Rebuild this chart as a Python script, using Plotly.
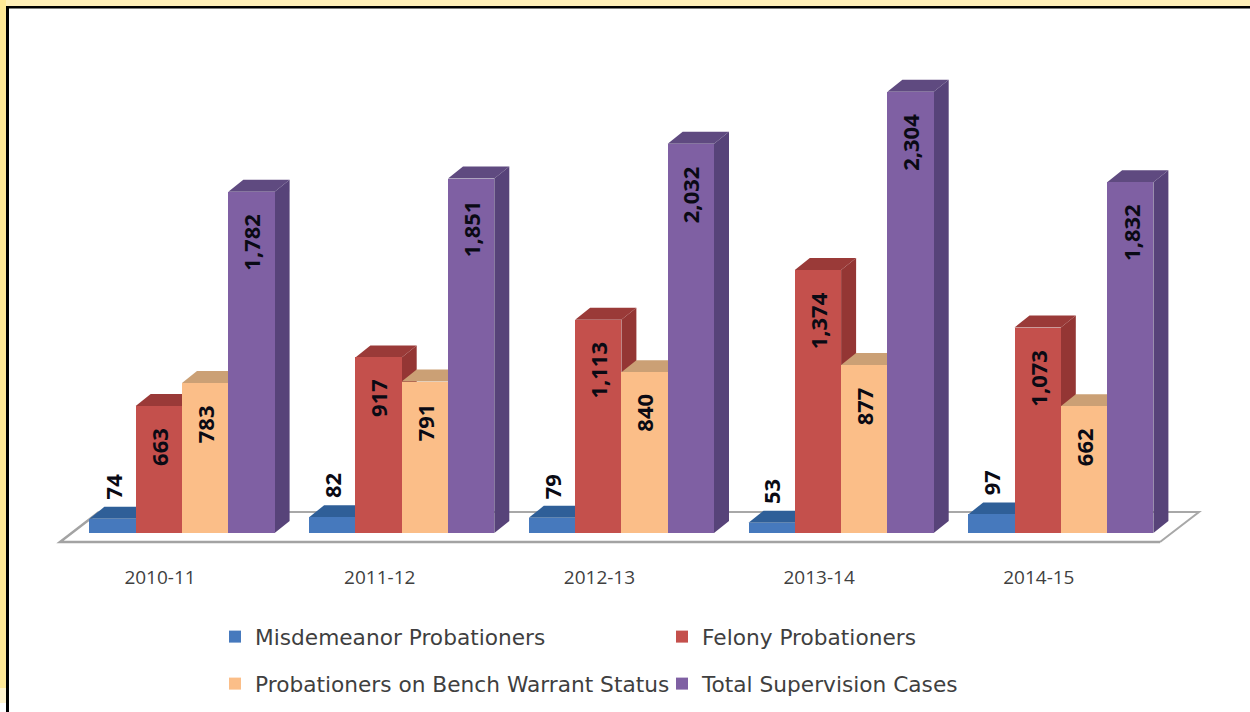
import plotly.graph_objects as go

categories = ["2010-11", "2011-12", "2012-13", "2013-14", "2014-15"]
misdemeanor = [74, 82, 79, 53, 97]
felony = [663, 917, 1113, 1374, 1073]
bench_warrant = [783, 791, 840, 877, 662]
total_cases = [1782, 1851, 2032, 2304, 1832]

series = [
    ("Misdemeanor Probationers", misdemeanor, "#4679BD", "#2F5F98", "#2F5F98", "legend"),
    ("Felony Probationers", felony, "#C4504C", "#9A3A38", "#943634", "legend"),
    ("Probationers on Bench Warrant Status", bench_warrant, "#FBBE88", "#CBA075", "#C29A70", "legend2"),
    ("Total Supervision Cases", total_cases, "#7F60A3", "#5F4A80", "#574379", "legend2"),
]

W, H = 1250, 712
GROUP_PX = 219.7      # pixels per category
ZERO_X = 182.0        # pixel of first group's centre
ZERO_Y = 533.0        # pixel of value 0
PX_PER_UNIT = 0.1915
BAR_PX = 46.3
DX_PX, DY_PX = 15.0, 12.0

bar_w = BAR_PX / GROUP_PX
dx = DX_PX / GROUP_PX
dy = DY_PX / PX_PER_UNIT
x_range = [-ZERO_X / GROUP_PX, (W - ZERO_X) / GROUP_PX]
y_range = [-(H - ZERO_Y) / PX_PER_UNIT, ZERO_Y / PX_PER_UNIT]

fig = go.Figure()

# Depth faces: lowest subplot, left to right
for s, (name, vals, front, top, side, lg) in enumerate(series):
    off = (s - 1.5) * bar_w
    for i, v in enumerate(vals):
        l, r = i + off - bar_w / 2, i + off + bar_w / 2
        fig.add_trace(go.Scatter(
            x=[l, l + dx, r + dx, r, l], y=[v, v + dy, v + dy, v, v],
            mode="lines", fill="toself", fillcolor=top, line=dict(width=0, color=top),
            showlegend=False, hoverinfo="skip", xaxis="x", yaxis="y"))
        fig.add_trace(go.Scatter(
            x=[r, r + dx, r + dx, r, r], y=[0, dy, v + dy, v, 0],
            mode="lines", fill="toself", fillcolor=side, line=dict(width=0, color=side),
            showlegend=False, hoverinfo="skip", xaxis="x", yaxis="y"))

# Front faces: overlaid subplot
for s, (name, vals, front, top, side, lg) in enumerate(series):
    off = (s - 1.5) * bar_w
    fig.add_trace(go.Bar(
        x=[i + off for i in range(len(vals))], y=vals, width=bar_w, name=name,
        marker=dict(color=front, line=dict(width=0)), legend=lg,
        xaxis="x2", yaxis="y2"))

annotations = []
for s, (name, vals, *_rest) in enumerate(series):
    off = (s - 1.5) * bar_w
    for i, v in enumerate(vals):
        outside = s == 0
        annotations.append(dict(
            x=i + off, y=v, xref="x2", yref="y2",
            text=f"{v:,}", textangle=-90, showarrow=False,
            yanchor="bottom" if outside else "top", xanchor="center",
            yshift=17 if outside else -20,
            font=dict(family="Open Sans", size=22, color="#0a0a14", weight="bold")))

px = lambda v: v / W
py = lambda v: 1 - v / H
shapes = [
    dict(type="rect", xref="paper", yref="paper", x0=0, x1=1, y0=py(0), y1=py(6),
         fillcolor="#FFEFB8", line_width=0, layer="below"),
    dict(type="rect", xref="paper", yref="paper", x0=px(0), x1=px(6), y0=py(0), y1=py(688),
         fillcolor="#FFE996", line_width=0, layer="below"),
    dict(type="rect", xref="paper", yref="paper", x0=px(0), x1=px(6), y0=py(688), y1=py(703),
         fillcolor="#FFF4CF", line_width=0, layer="below"),
    dict(type="rect", xref="paper", yref="paper", x0=px(6), x1=1, y0=py(6), y1=py(8.5),
         fillcolor="#000000", line_width=0, layer="below"),
    dict(type="rect", xref="paper", yref="paper", x0=px(6), x1=px(9), y0=py(6), y1=0,
         fillcolor="#000000", line_width=0, layer="below"),
    dict(type="path", xref="paper", yref="paper",
         path=f"M{px(99)},{py(512)} L{px(1199)},{py(512)} L{px(1160)},{py(542)}",
         line=dict(color="#A8A8A8", width=2), layer="below"),
    dict(type="path", xref="paper", yref="paper",
         path=f"M{px(99)},{py(512)} L{px(60)},{py(542)} L{px(1160)},{py(542)}",
         line=dict(color="#A3A3A3", width=2.5), layer="below"),
]

legend_common = dict(orientation="h", xanchor="left", yanchor="middle",
                     entrywidth=402, entrywidthmode="pixels", bgcolor="rgba(0,0,0,0)",
                     font=dict(family="DejaVu Sans", size=21.7, color="#3f3f3f"),
                     itemclick=False, itemdoubleclick=False)

fig.update_layout(
    width=W, height=H, margin=dict(l=0, r=0, t=0, b=0),
    paper_bgcolor="#FFFFFF", plot_bgcolor="rgba(0,0,0,0)",
    barmode="overlay", bargap=0, showlegend=True, hovermode=False,
    xaxis=dict(range=x_range, domain=[0, 1], showgrid=False, zeroline=False, showline=False,
               anchor="free", position=1 - 564 / H, side="bottom",
               tickmode="array", tickvals=[i - 0.1 for i in range(len(categories))],
               ticktext=categories, ticks="", ticklen=0, fixedrange=True,
               tickfont=dict(family="Open Sans", size=19, color="#3f3f3f")),
    yaxis=dict(range=y_range, domain=[0, 1], visible=False, fixedrange=True),
    xaxis2=dict(range=x_range, domain=[0, 1], visible=False, overlaying="x", fixedrange=True),
    yaxis2=dict(range=y_range, domain=[0, 1], visible=False, overlaying="y", anchor="x2", fixedrange=True),
    legend=dict(x=px(215), y=py(637), **legend_common),
    legend2=dict(x=px(215), y=py(684), **legend_common),
    shapes=shapes, annotations=annotations,
)
fig.update_traces(xaxis="x2", yaxis="y2", selector=dict(type="bar"))

fig.write_html("out.html", config=dict(displayModeBar=False),
               post_script="document.body.style.margin='0';document.documentElement.style.overflow='hidden';")
